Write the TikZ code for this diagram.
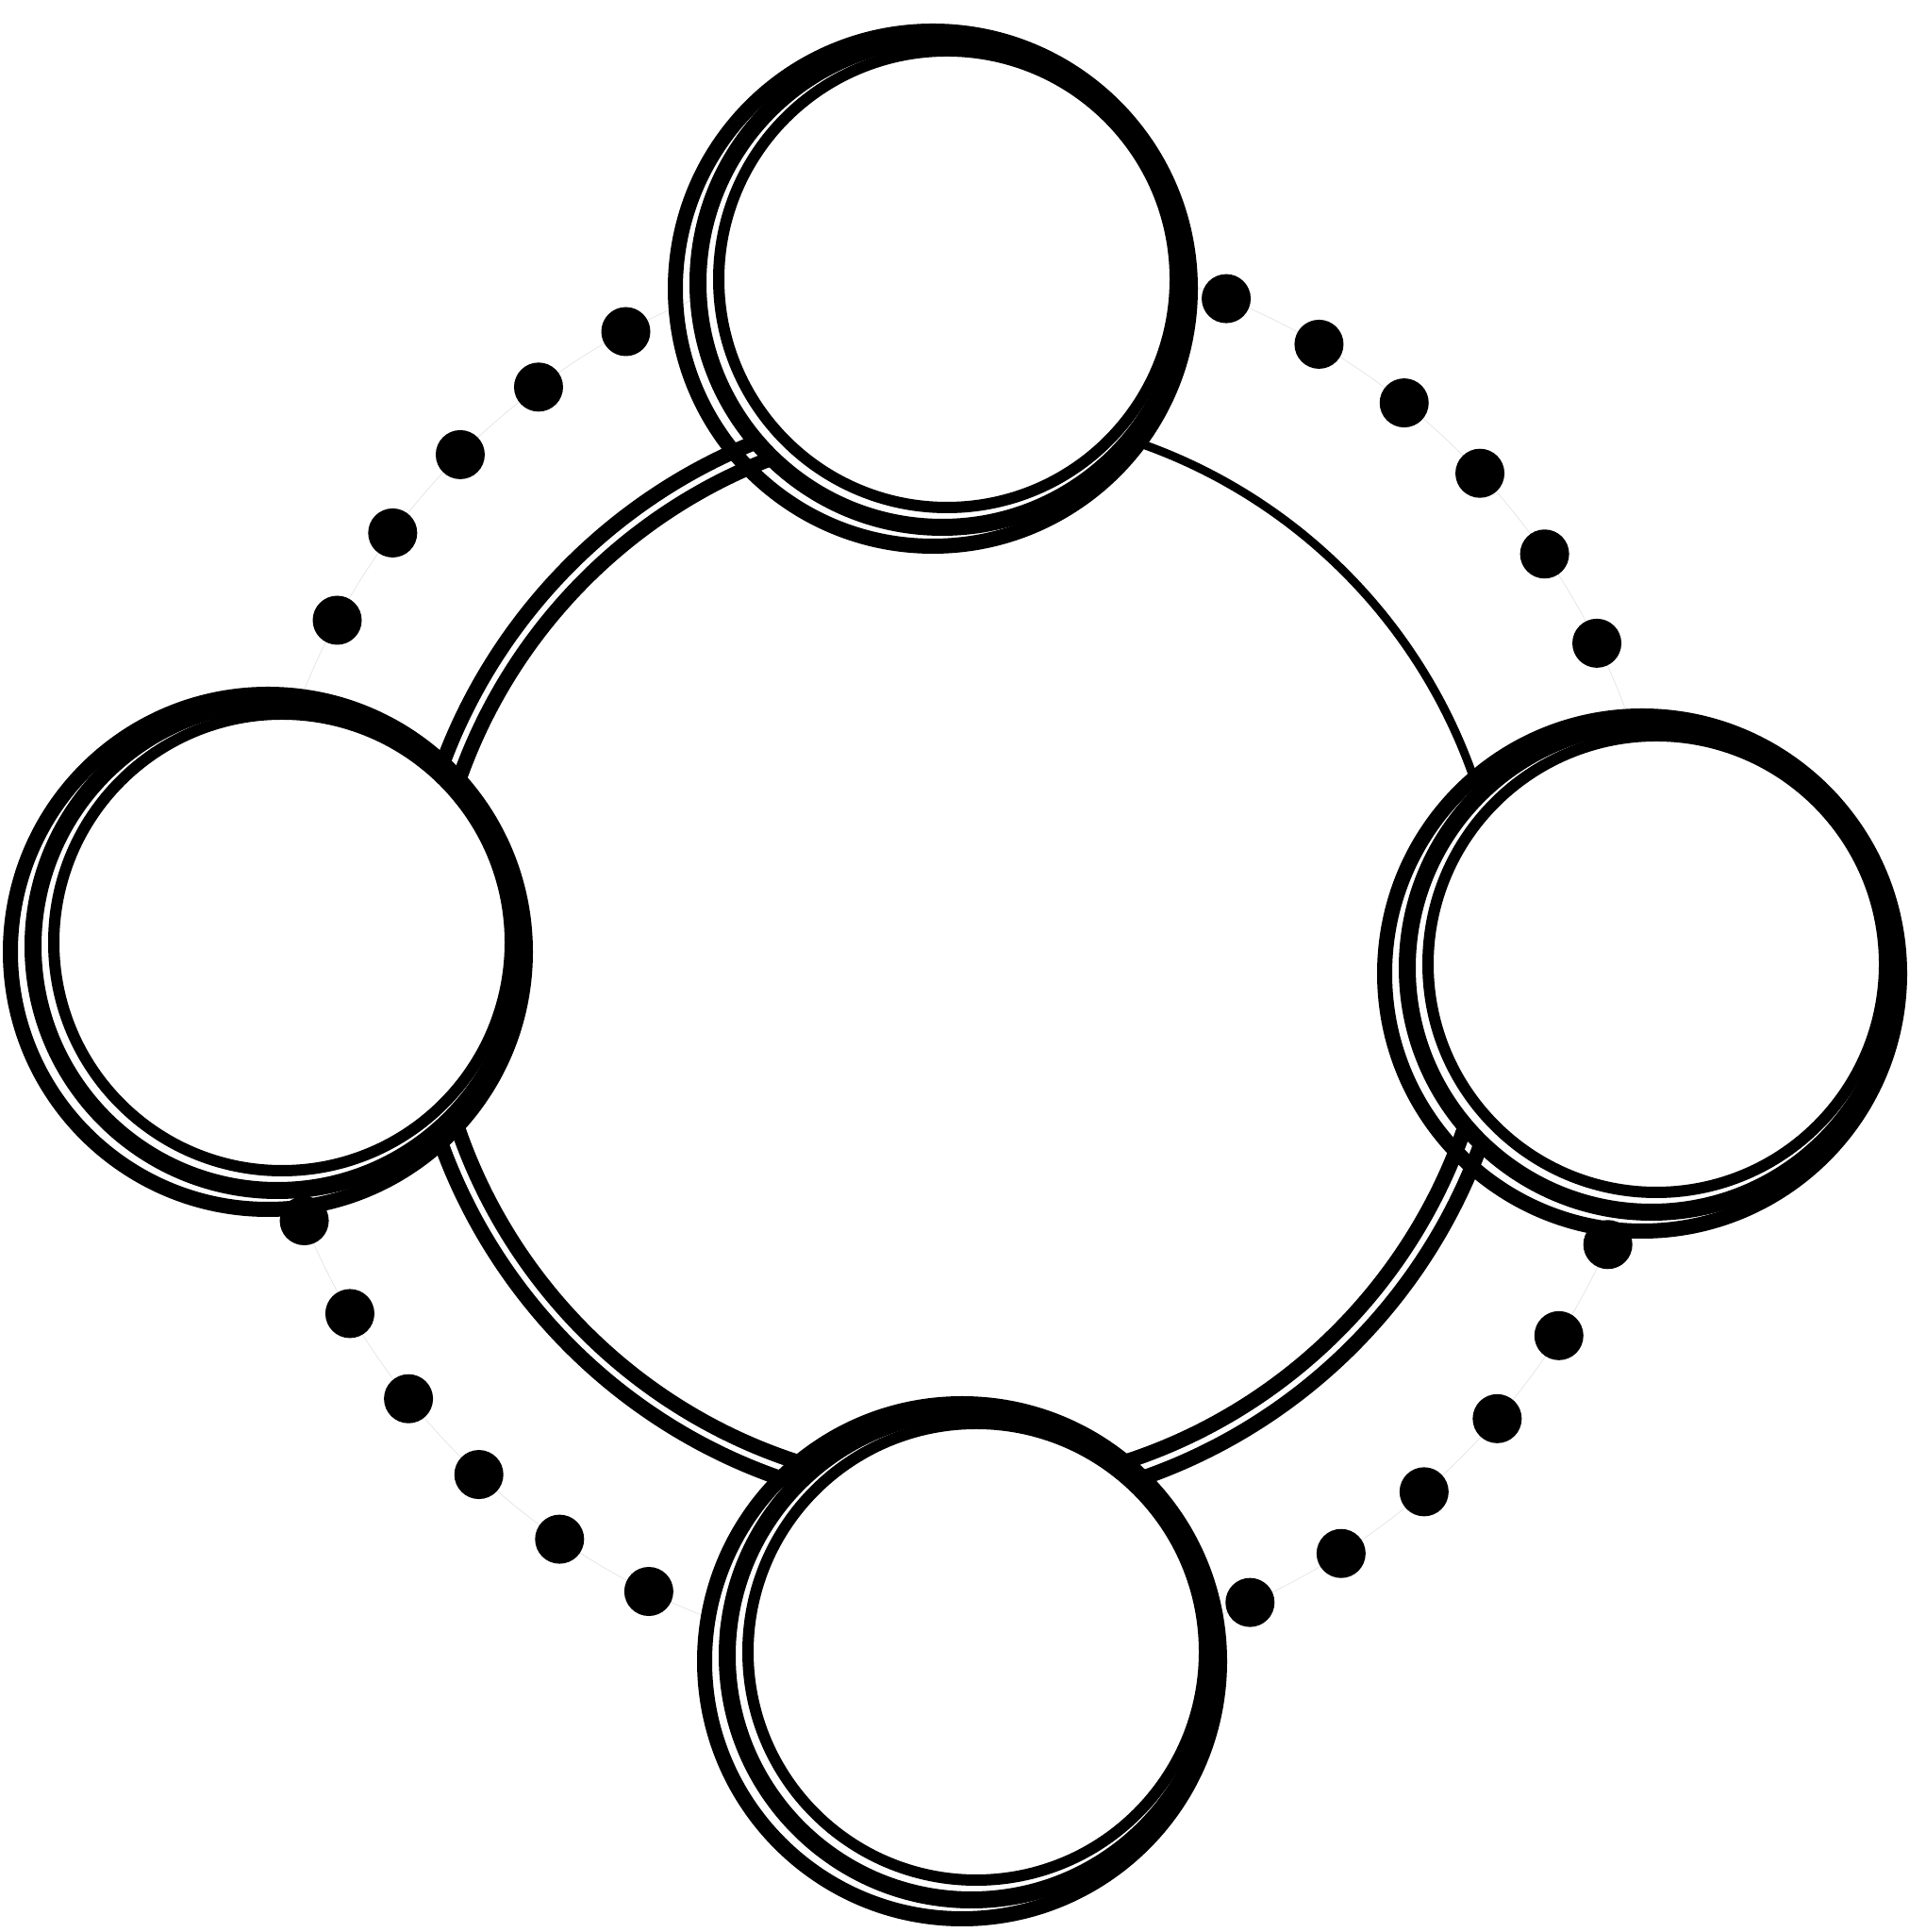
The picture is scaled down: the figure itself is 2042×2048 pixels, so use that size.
\documentclass[tikz,border=0pt]{standalone}
\usepackage{tikz}

\begin{document}
\begin{tikzpicture}[x=1pt, y=1pt,
  spot/.style={circle, draw, fill=white, line width=18pt, minimum size=518pt, inner sep=0pt},
  stroke/.style={line width=#1},
  blot/.style={fill=black}]

  \newcommand\Rring{575}
  \newcommand\Rdot{751}

  \useasboundingbox (0,0) rectangle (2042,2048);

  \coordinate (hub) at (1019,1035);

  %% faint guide + dots
  \draw[black!12, line width=0.6pt] (hub) circle (\Rdot);
  \foreach \k in {0,...,42}
    \fill[blot] (hub) ++({135+\k*360/43}:\Rdot) circle (26);

  %% ring through the spots
  \draw[line width=16pt, double=white, double distance=6pt] (hub) ++(90:\Rring) arc[start angle=90, end angle=360, radius=\Rring];
  \draw[stroke=9pt] (hub) ++(0:\Rring) arc[start angle=0, end angle=90, radius=\Rring];

  \node[spot] (spotN) at (999,1748) {};
  \node[spot] (spotW) at (294,1045) {};
  \node[spot] (spotE) at (1751,1022) {};
  \node[spot] (spotS) at (1030,293) {};

  %% brush strokes round each spot
  \foreach \s in {spotN,spotW,spotE,spotS} {
    \draw[stroke=16pt] (\s.center) ++(-10,-6) circle (273);
    \draw[stroke=12pt] (\s.center) ++(5,4) circle (242);
  }
\end{tikzpicture}
\end{document}
